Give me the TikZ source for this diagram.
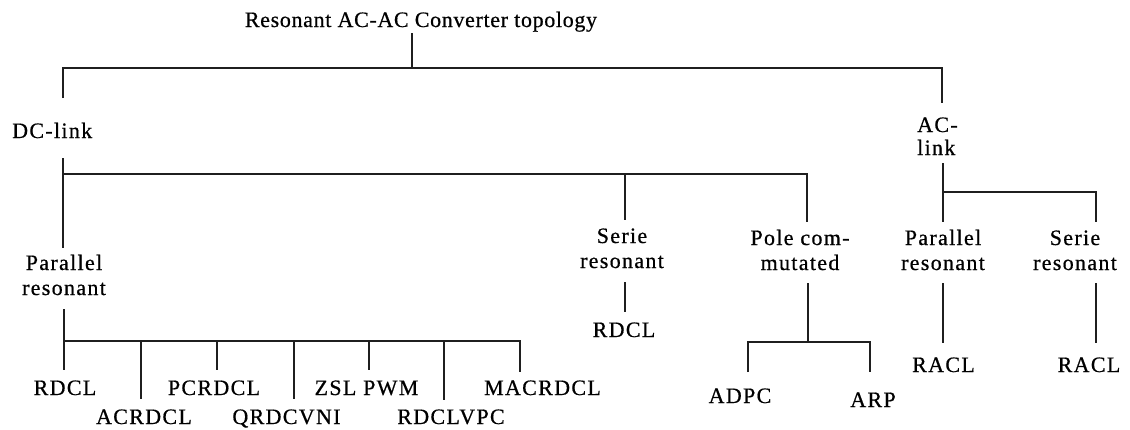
\documentclass[tikz,border=0pt]{standalone}
\usepackage{fontspec}
\setmainfont{Liberation Serif}
\newfontfamily\labfont[LetterSpace=6,FakeBold=0.6]{Liberation Serif}
\newfontfamily\titfont[LetterSpace=3,FakeBold=0.6]{Liberation Serif}
\newcommand\twoC[2]{\begin{tabular}[t]{@{}c@{}}#1\\#2\end{tabular}}
\newcommand\twoL[2]{\begin{tabular}[t]{@{}l@{}}#1\\#2\end{tabular}}
\tikzset{
  lab/.style={font=\labfont\fontsize{22pt}{25pt}\selectfont, inner sep=0pt, anchor=base, text=black},
  ttl/.style={font=\titfont\fontsize{22pt}{25pt}\selectfont, inner sep=0pt, anchor=base, text=black},
  conn/.style={line width=1.6pt, draw=black!88, line cap=butt},
}
\begin{document}
\begin{tikzpicture}[x=1pt,y=-1pt]
\fill[white] (0,0) rectangle (1130,429);
\useasboundingbox (0,0) rectangle (1130,429);

% ---- text nodes ----
\node[ttl] (root) at (421,27) {Resonant AC-AC Converter topology};
\node[lab, anchor=base west] (dc) at (12,138) {DC-link};
\node[lab, anchor=base west, font=\labfont\fontsize{22pt}{23pt}\selectfont] (ac) at (917,132) {\twoL{AC-}{link}};
\node[lab] (par1) at (64,270) {\twoC{Parallel}{resonant}};
\node[lab] (ser1) at (622,243) {\twoC{Serie}{resonant}};
\node[lab] (pole) at (800,245) {\twoC{Pole com-}{mutated}};
\node[lab] (par2) at (943,245) {\twoC{Parallel}{resonant}};
\node[lab] (ser2) at (1075,245) {\twoC{Serie}{resonant}};
\node[lab] (s1) at (624,337) {RDCL};
\node[lab] (adpc) at (740,403) {ADPC};
\node[lab] (arp) at (873,407) {ARP};
\node[lab] (racl1) at (943.5,372) {RACL};
\node[lab] (racl2) at (1089,372) {RACL};
\node[lab] (b1) at (65,395) {RDCL};
\node[lab] (b2) at (144,424) {ACRDCL};
\node[lab] (b3) at (214,395) {PCRDCL};
\node[lab] (b4) at (286.5,424) {QRDCVNI};
\node[lab] (b5) at (366.5,395) {ZSL PWM};
\node[lab] (b6) at (451,424) {RDCLVPC};
\node[lab] (b7) at (542.5,395) {MACRDCL};

% ---- connector end points ----
\coordinate (rootS) at (412,33);
\coordinate (rootJ) at (412,68);
\coordinate (dcN) at (63,98);
\coordinate (acN) at (942,103);
\coordinate (dcS) at (63,158);
\coordinate (dcJ) at (63,174);
\coordinate (par1N) at (63,248);
\coordinate (ser1N) at (625,220);
\coordinate (poleN) at (807,222);
\coordinate (acS) at (943,163);
\coordinate (acJ) at (943,192);
\coordinate (par2N) at (943,222);
\coordinate (ser2N) at (1096,222);
\coordinate (par1S) at (64,309);
\coordinate (par1J) at (64,341);
\coordinate (b1N) at (64,370);
\coordinate (b2N) at (141,399);
\coordinate (b3N) at (217,370);
\coordinate (b4N) at (294,399);
\coordinate (b5N) at (369,370);
\coordinate (b6N) at (444,400);
\coordinate (b7N) at (520,372);
\coordinate (ser1S) at (625,282);
\coordinate (s1N) at (625,312);
\coordinate (poleS) at (808,283);
\coordinate (poleJ) at (808,342);
\coordinate (adpcN) at (748,372);
\coordinate (arpN) at (870,372);
\coordinate (par2S) at (943,283);
\coordinate (racl1N) at (943,343);
\coordinate (ser2S) at (1096,283);
\coordinate (racl2N) at (1096,343);

% ---- connectors ----
\draw[conn] (rootS) -- (rootJ);
\draw[conn] (dcN) -- (dcN |- rootJ) -- (acN |- rootJ) -- (acN);

\draw[conn] (dcS) -- (par1N);
\draw[conn] (dcJ) -- (poleN |- dcJ) -- (poleN);
\draw[conn] (ser1N |- dcJ) -- (ser1N);

\draw[conn] (acS) -- (par2N);
\draw[conn] (acJ) -- (ser2N |- acJ) -- (ser2N);

\draw[conn] (par1S) -- (b1N);
\draw[conn] (par1J) -- (b7N |- par1J) -- (b7N);
\foreach \b in {b2N,b3N,b4N,b5N,b6N}
  \draw[conn] (\b |- par1J) -- (\b);

\draw[conn] (ser1S) -- (s1N);
\draw[conn] (poleS) -- (poleJ);
\draw[conn] (adpcN) -- (adpcN |- poleJ) -- (arpN |- poleJ) -- (arpN);
\draw[conn] (par2S) -- (racl1N);
\draw[conn] (ser2S) -- (racl2N);
\end{tikzpicture}
\end{document}
